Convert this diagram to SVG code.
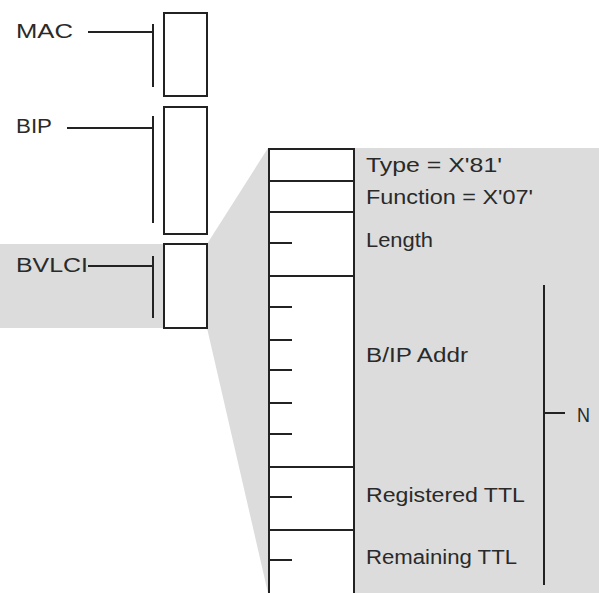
<svg xmlns="http://www.w3.org/2000/svg" width="599" height="593" viewBox="0 0 599 593">
<style>
.ln{stroke:#222;stroke-width:2;fill:none}
.bx{stroke:#222;stroke-width:2;fill:#fff}
.t{font-family:"Liberation Sans",Arial,sans-serif;font-size:20px;fill:#2a2a2a}
</style>
<rect width="599" height="593" fill="#fff"/>
<polygon id="zoom-shade" points="0,244 207,244 268,148 599,148 599,593 268,593 207,328 0,328" fill="#dcdcdc"/>
<g id="connectors">
<path class="ln" d="M88,32H153M153,24V87"/>
<path class="ln" d="M67,128H153M153,116V223"/>
<path class="ln" d="M88,266H153M153,256V318"/>
<path class="ln" d="M544,285V585M544,413H565"/>
</g>
<g id="mac"><rect class="bx" x="164" y="13" width="43" height="83"/><text class="t" x="16" y="38" textLength="57" lengthAdjust="spacingAndGlyphs">MAC</text></g>
<g id="bip"><rect class="bx" x="164" y="107" width="43" height="127"/><text class="t" x="16" y="133" textLength="36" lengthAdjust="spacingAndGlyphs">BIP</text></g>
<g id="bvlci"><rect class="bx" x="164" y="244" width="43" height="84"/><text class="t" x="16" y="272" textLength="72" lengthAdjust="spacingAndGlyphs">BVLCI</text></g>
<g id="frame">
<path d="M269,149H354V594H269Z" fill="#fff"/>
<path class="ln" d="M269,594V149H354V594"/>
<path class="ln" d="M269,181H354M269,212H354M269,276H354M269,467H354M269,530H354"/>
<path class="ln" d="M269,243H292M269,307H292M269,340H292M269,370H292M269,403H292M269,434H292M269,497H292M269,560H292"/>
</g>
<g id="labels">
<text class="t" x="366" y="172" textLength="136" lengthAdjust="spacingAndGlyphs">Type = X'81'</text>
<text class="t" x="366" y="204" textLength="167" lengthAdjust="spacingAndGlyphs">Function = X'07'</text>
<text class="t" x="366" y="247" textLength="67" lengthAdjust="spacingAndGlyphs">Length</text>
<text class="t" x="366" y="362" textLength="102" lengthAdjust="spacingAndGlyphs">B/IP Addr</text>
<text class="t" x="366" y="502" textLength="159" lengthAdjust="spacingAndGlyphs">Registered TTL</text>
<text class="t" x="366" y="564" textLength="151" lengthAdjust="spacingAndGlyphs">Remaining TTL</text>
<text class="t" x="577" y="422" textLength="13" lengthAdjust="spacingAndGlyphs">N</text>
</g>
</svg>
